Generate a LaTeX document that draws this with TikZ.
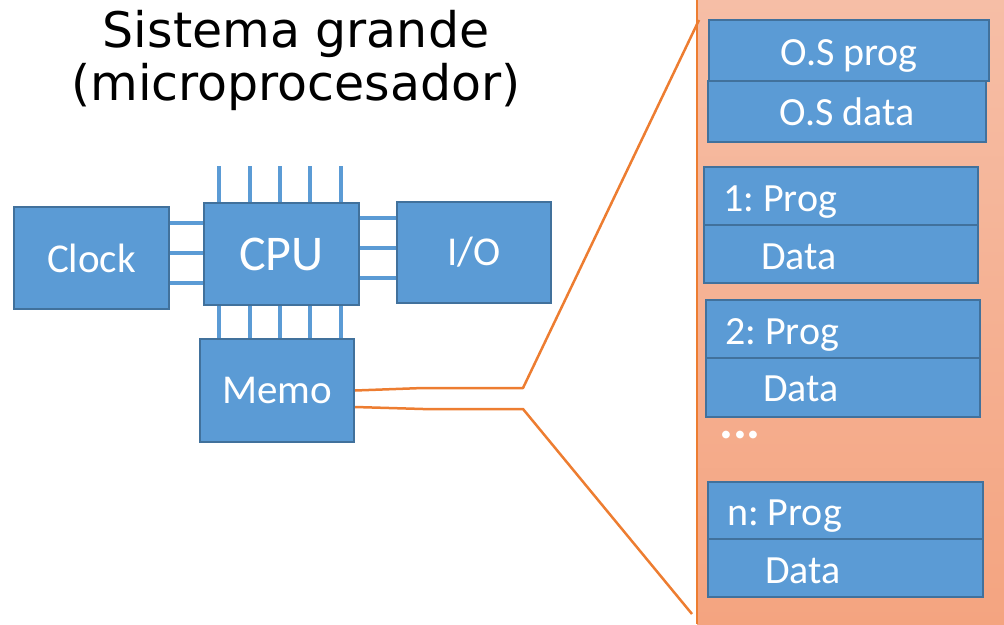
\documentclass[tikz,border=0pt]{standalone}
\usepackage{fontspec}
\setmainfont{Carlito}
\newfontfamily\headfont{DejaVu Sans}
\usetikzlibrary{backgrounds}
\definecolor{boxfill}{RGB}{91,155,213}
\definecolor{boxline}{RGB}{65,113,156}
\definecolor{wire}{RGB}{237,125,49}
\definecolor{panelTop}{RGB}{246,190,166}
\definecolor{panelBot}{RGB}{244,164,128}
\frenchspacing
\begin{document}
\begin{tikzpicture}[x=1pt,y=-1pt,
  box/.style={draw=boxline, fill=boxfill, line width=2pt, text=white,
    inner sep=0pt, font=\fontsize{41}{41}\selectfont},
  pin/.style={draw=boxfill, line width=4pt},
  link/.style={draw=wire, line width=2.5pt, line join=round},
  lbl/.style={text=white, inner sep=0pt, font=\fontsize{40}{40}\selectfont,
    anchor=base west},
]
\useasboundingbox (0,0) rectangle (1004,624);

% title
\node[inner sep=0pt, align=center, font=\headfont\fontsize{49}{53}\selectfont]
  (title) at (296,60) {Sistema grande\\(microprocesador)};

% system blocks
\node[box, minimum width=155pt, minimum height=102pt] (clock) at (91.5,258) {Clock};
\node[box, minimum width=155pt, minimum height=102pt,
  font=\fontsize{50}{50}\selectfont] (cpu) at (281.5,254) {CPU};
\node[box, minimum width=154pt, minimum height=101pt] (io) at (474,252.5) {I/O};
\node[box, minimum width=154pt, minimum height=103pt] (memo) at (277,390.5) {Memo};

% pins / buses
\begin{scope}[on background layer]
  \foreach \y in {223,253,283}
    \draw[pin] (clock.east |- 0,\y) -- (cpu.west |- 0,\y);
  \foreach \y in {218,248,278}
    \draw[pin] (cpu.east |- 0,\y) -- (io.west |- 0,\y);
  \foreach \x in {219,250,280,310,341} {
    \draw[pin] (cpu.north -| \x,0) -- ++(0,-36);
    \draw[pin] (cpu.south -| \x,0) -- (memo.north -| \x,0);
  }
  % memory map panel
  \shade[top color=panelTop, bottom color=panelBot] (697,0) rectangle (1004,624);
  \draw[wire, line width=2pt] (697,0) -- (697,624);
\end{scope}

% memory map contents
\node[box, minimum width=280pt, minimum height=61pt] (osprog) at (849,50.5) {};
\node[box, minimum width=278pt, minimum height=61pt] (osdata) at (847,111.5) {};
\node[lbl, anchor=base] (osprogtxt) at ([yshift=-15pt]osprog.center) {O.S prog};
\node[lbl, anchor=base] (osdatatxt) at ([yshift=-13.5pt]osdata.center) {O.S data};

\node[box, minimum width=274pt, minimum height=58pt] (p1) at (841,196) {};
\node[box, minimum width=274pt, minimum height=58pt] (d1) at (841,254) {};
\node[box, minimum width=274pt, minimum height=58pt] (p2) at (843,329) {};
\node[box, minimum width=274pt, minimum height=59pt] (d2) at (843,387.5) {};
\node[box, minimum width=275pt, minimum height=57pt] (pn) at (845.5,510.5) {};
\node[box, minimum width=275pt, minimum height=58pt] (dn) at (845.5,568) {};

\node[lbl] (p1txt) at ([xshift=20pt,yshift=-15pt]p1.west) {1: Prog};
\node[lbl] (d1txt) at ([xshift=58pt,yshift=-15pt]d1.west) {Data};
\node[lbl] (p2txt) at ([xshift=20pt,yshift=-15pt]p2.west) {2: Prog};
\node[lbl] (d2txt) at ([xshift=58pt,yshift=-14pt]d2.west) {Data};
\node[lbl] (pntxt) at ([xshift=20pt,yshift=-15pt]pn.west) {n: Prog};
\node[lbl] (dntxt) at ([xshift=58pt,yshift=-15pt]dn.west) {Data};
\node[lbl, font=\bfseries\fontsize{52}{52}\selectfont] (dots) at (719,438) {...};

% zoom lines from memory to the map
\coordinate (fanTop) at (699,20);
\coordinate (fanBot) at (692,614);
\coordinate (kneeA) at (523,388);
\coordinate (kneeB) at (523,409);
\draw[link] (memo.east) -- (423,388) -- (kneeA) -- (fanTop);
\draw[link] ([yshift=-16.5pt]memo.east) -- (423,409) -- (kneeB) -- (fanBot);
\end{tikzpicture}
\end{document}
